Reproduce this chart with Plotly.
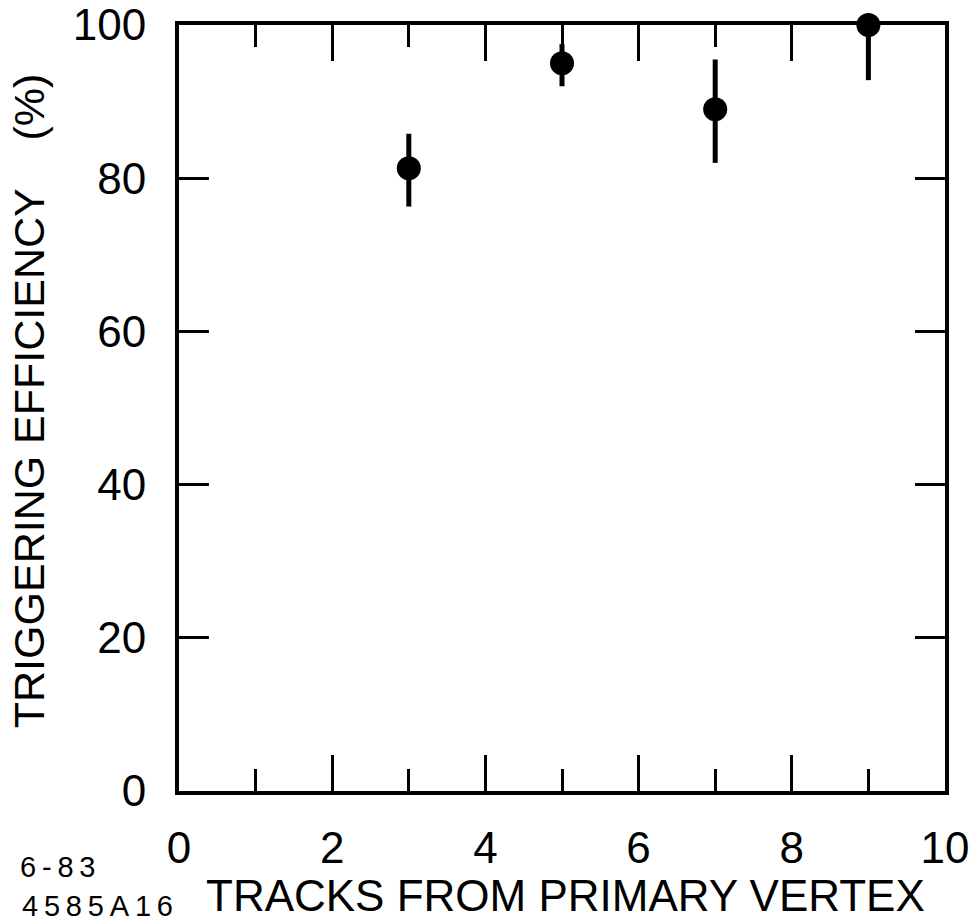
import plotly.graph_objects as go

# Triggering efficiency vs. number of tracks from the primary vertex
tracks = [3, 5, 7, 9]
efficiency = [81.3, 95.0, 89.0, 100.0]
err_up = [4.5, 2.5, 6.5, 0.0]
err_down = [5.0, 3.0, 7.0, 7.2]

x_ticks = [0, 2, 4, 6, 8, 10]
x_ticktext = ["0", "2", "4", "6", "8", "10"]
y_ticks = [0, 20, 40, 60, 80, 100]
y_ticktext = ["0", "20", "40", "60", "80", "100"]

FONT = "Liberation Sans, Arial, sans-serif"

fig = go.Figure()
fig.add_trace(go.Scatter(
    x=tracks,
    y=efficiency,
    mode="markers",
    marker=dict(size=24, color="black"),
    error_y=dict(type="data", symmetric=False, array=err_up, arrayminus=err_down,
                 thickness=5, width=0, color="black"),
    cliponaxis=False,
    showlegend=False,
))

axis_common = dict(
    showgrid=False, zeroline=False, automargin=False,
    showline=True, linewidth=4, linecolor="black", mirror="allticks",
    ticks="inside", tickwidth=3, tickcolor="black",
    tickfont=dict(family=FONT, size=44, color="black"),
)

fig.update_xaxes(
    range=[0, 10], tickmode="array", tickvals=x_ticks, ticktext=x_ticktext,
    ticklen=36, ticklabelstandoff=15,
    minor=dict(dtick=1, ticks="inside", ticklen=22, tickwidth=3, tickcolor="black", showgrid=False),
    **axis_common,
)
fig.update_yaxes(
    range=[0, 100], tickmode="array", tickvals=y_ticks, ticktext=y_ticktext,
    ticklen=30, ticklabelstandoff=20,
    **axis_common,
)

fig.add_annotation(
    text="TRIGGERING EFFICIENCY\u00a0\u00a0\u00a0\u00a0(%)",
    textangle=-90, xref="paper", yref="paper", x=-0.196, y=0.51,
    xanchor="center", yanchor="middle", showarrow=False,
    font=dict(family=FONT, size=43, color="black"),
)
fig.add_annotation(
    text="TRACKS FROM PRIMARY VERTEX",
    xref="paper", yref="paper", x=0.504, y=-0.136,
    xanchor="center", yanchor="middle", showarrow=False,
    font=dict(family=FONT, size=44, color="black"),
)
fig.add_annotation(
    text="6\u2009-\u20098\u20093",
    xref="paper", yref="paper", x=-0.21, y=-0.099,
    xanchor="left", yanchor="middle", showarrow=False,
    font=dict(family=FONT, size=29, color="black"),
)
fig.add_annotation(
    text="4\u20095\u20098\u20095\u2009A\u20091\u20096",
    xref="paper", yref="paper", x=-0.208, y=-0.15,
    xanchor="left", yanchor="middle", showarrow=False,
    font=dict(family=FONT, size=29, color="black"),
)

fig.update_layout(
    width=974, height=922,
    margin=dict(l=179, r=29, t=25, b=131),
    paper_bgcolor="white", plot_bgcolor="white",
)

fig.write_html("out.html")
